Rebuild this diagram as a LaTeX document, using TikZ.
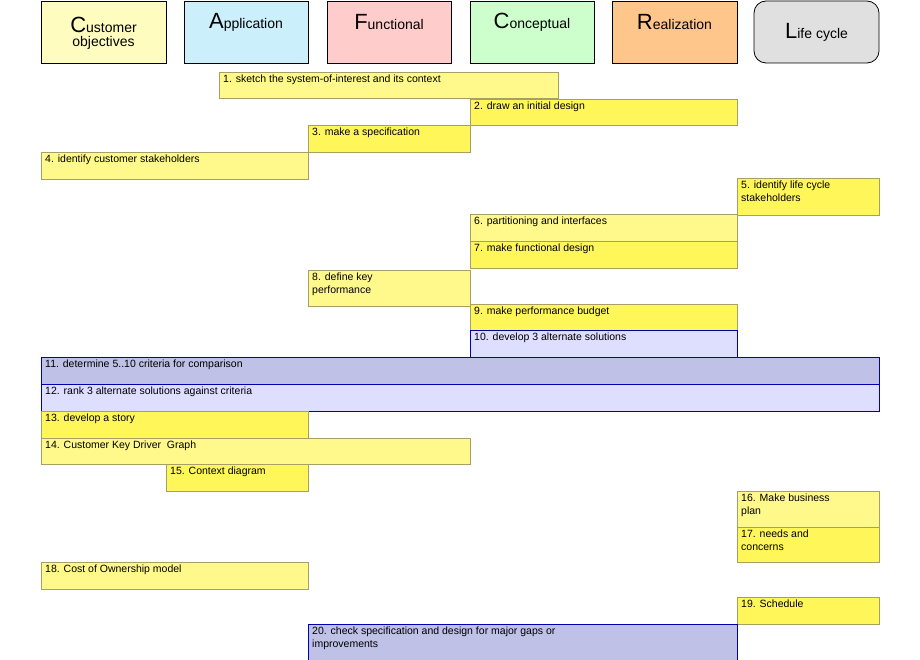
\documentclass[tikz,border=0pt]{standalone}
\usepackage{fontspec}
\setmainfont{Liberation Sans}
\begin{document}
\begin{tikzpicture}[x=1pt,y=-1pt,
 hdr/.style={draw=black,line width=0.8pt,align=center,font=\fontsize{14}{16}\selectfont},
 bx/.style={draw=yellow!50!black!80,line width=0.6pt},
 ya/.style={bx,fill=yellow!45},
 yb/.style={bx,fill=yellow!65},
 lav/.style={draw=blue!70!black,line width=0.6pt,fill=blue!13},
 blu/.style={draw=blue!70!black,line width=0.6pt,fill=cyan!25!blue!25},
 tx/.style={anchor=north west,align=left,inner sep=0pt,font=\fontsize{10.5}{12.5}\selectfont}]
\useasboundingbox (0,0) rectangle (920,660);
\newcommand{\B}[1]{{\fontsize{22}{22}\selectfont #1}}
\filldraw[hdr,fill=yellow!25] (41,1) rectangle (166,63);
\node[hdr,draw=none] (h1) at (103.5,33) {\B{C}ustomer\\[-2pt]objectives};
\filldraw[hdr,fill=cyan!20] (184,1) rectangle (308,63);
\node[hdr,draw=none] (h2) at (246,22) {\B{A}pplication};
\filldraw[hdr,fill=red!20] (327,1) rectangle (451,63);
\node[hdr,draw=none] (h3) at (389,22) {\B{F}unctional};
\filldraw[hdr,fill=green!20] (470,1) rectangle (594,63);
\node[hdr,draw=none] (h4) at (532,22) {\B{C}onceptual};
\filldraw[hdr,fill=orange!45] (612,1) rectangle (737,63);
\node[hdr,draw=none] (h5) at (674.5,22) {\B{R}ealization};
\filldraw[hdr,fill=black!12,rounded corners=12pt] (754,1) rectangle (879,63);
\node[hdr,draw=none] (h6) at (816.5,32) {\B{L}ife cycle};
\newcommand{\T}[6]{\filldraw[#1] (#2,#3) rectangle (#4,#5); \node[tx] at (#2+4,#3+3) {#6};}
\T{ya}{219}{72}{558}{98}{1. sketch the system-of-interest and its context}
\T{yb}{470}{99}{737}{125}{2. draw an initial design}
\T{yb}{308}{125}{470}{152}{3. make a specification}
\T{ya}{41}{152}{308}{179}{4. identify customer stakeholders}
\T{yb}{737}{178}{879}{215}{5. identify life cycle\\stakeholders}
\T{ya}{470}{214}{737}{241}{6. partitioning and interfaces}
\T{yb}{470}{241}{737}{268}{7. make functional design}
\T{ya}{308}{270}{470}{306}{8. define key\\performance}
\T{yb}{470}{304}{737}{330}{9. make performance budget}
\T{lav}{470}{330}{737}{357}{10. develop 3 alternate solutions}
\T{blu}{41}{357}{879}{384}{11. determine 5..10 criteria for comparison}
\T{lav}{41}{384}{879}{411}{12. rank 3 alternate solutions against criteria}
\T{yb}{41}{411}{308}{438}{13. develop a story}
\T{ya}{41}{438}{470}{464}{14. Customer Key Driver\ \ Graph}
\T{yb}{166}{464}{308}{491}{15. Context diagram}
\T{ya}{737}{491}{879}{527}{16. Make business\\plan}
\T{yb}{737}{527}{879}{562}{17. needs and\\concerns}
\T{ya}{41}{562}{308}{589}{18. Cost of Ownership model}
\T{yb}{737}{597}{879}{624}{19. Schedule}
\T{blu}{308}{624}{737}{660}{20. check specification and design for major gaps or\\improvements}
\end{tikzpicture}
\end{document}
